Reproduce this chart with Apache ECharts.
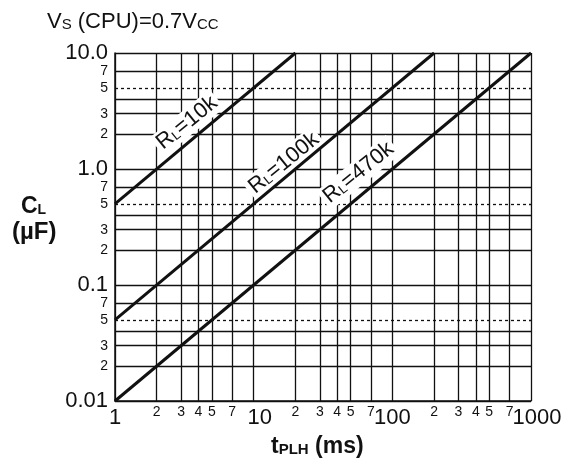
<!DOCTYPE html>
<html style="height: 100%">
<head>
    <meta charset="utf-8">
    <title>tPLH vs CL</title>
</head>
<body style="height: 100%; margin: 0">
    <div id="container" style="width: 566px; height: 462px"></div>
    <script type="text/javascript" src="https://cdn.jsdelivr.net/npm/echarts@6/dist/echarts.min.js"></script>
    <script type="text/javascript">
        var dom     = document.getElementById("container");
        var myChart = echarts.init(dom);

        // chart values
        var rl10k   = [[1, 0.5], [20, 10]];
        var rl100k  = [[1, 0.05], [200, 10]];
        var rl470k  = [[1, 0.01], [1000, 10]];

        // grid / tick values
        var xGrid     = [1, 2, 3, 4, 5, 7, 10, 20, 30, 40, 50, 70, 100, 200, 300, 400, 500, 700, 1000];
        var xMinor    = [2, 3, 4, 5, 7, 20, 30, 40, 50, 70, 200, 300, 400, 500, 700];
        var xDecades  = [1, 10, 100, 1000];
        var yGrid     = [0.01, 0.02, 0.03, 0.04, 0.07, 0.1, 0.2, 0.3, 0.4, 0.7, 1, 2, 3, 4, 7, 10];
        var yDotted   = [0.05, 0.5, 5];
        var yLabels   = [0.01, 0.02, 0.03, 0.05, 0.07, 0.1, 0.2, 0.3, 0.5, 0.7, 1, 2, 3, 5, 7, 10];
        var decadeNames = {0.01: '0.01', 0.1: '0.1', 1: '1.0', 10: '10.0'};

        var FONT = 'Liberation Sans, Arial, sans-serif';
        var INK  = '#111';

        function isDecade(v) {
            var l = Math.log10(v);
            return Math.abs(l - Math.round(l)) < 1e-9;
        }

        function leadDigit(v) {
            return String(Math.round(v / Math.pow(10, Math.floor(Math.log10(v) + 1e-9))));
        }

        function lineLabel(text, coord) {
            return {
                symbol: 'circle',
                symbolSize: 0,
                data: [{coord: coord}],
                label: {
                    show: true,
                    position: 'inside',
                    rotate: 39,
                    backgroundColor: '#fff',
                    padding: [1, 3],
                    formatter: '{r|R}{s|L}{r|' + text + '}',
                    rich: {
                        r: {fontFamily: FONT, fontSize: 22, color: INK, verticalAlign: 'bottom'},
                        s: {fontFamily: FONT, fontSize: 13, color: INK, verticalAlign: 'bottom', padding: [0, 0, 1, 0]}
                    }
                }
            };
        }

        function lineSeries(name, data, label, labelAt) {
            return {
                name:   name,
                type:   'line',
                data:   data,
                symbol: 'none',
                silent: true,
                z:      5,
                lineStyle: {color: INK, width: 3},
                markPoint: lineLabel(label, labelAt)
            };
        }

        var last = lineSeries('RL=470k', rl470k, '=470k', [57, 0.93]);
        last.markLine = {
            silent: true,
            symbol: ['none', 'none'],
            label: {show: false},
            lineStyle: {color: INK, width: 1.3, type: [3, 3]},
            data: yDotted.map(function (v) { return {yAxis: v}; })
        };

        option = {
            animation: false,
            backgroundColor: '#fff',
            grid: {left: 115, right: 35, top: 53, bottom: 61},
            title: {
                left: 47,
                top: 11,
                padding: 0,
                text: '{a|V}{b|S}{a| (CPU)=0.7V}{b|CC}',
                textStyle: {
                    rich: {
                        a: {fontFamily: FONT, fontSize: 22, fontWeight: 'normal', color: INK, verticalAlign: 'bottom'},
                        b: {fontFamily: FONT, fontSize: 15, fontWeight: 'normal', color: INK, verticalAlign: 'bottom', padding: [0, 0, 1, 0]}
                    }
                }
            },
            graphic: [{
                type: 'text',
                left: 21,
                top: 195,
                style: {
                    text: '{a|C}{b|L}',
                    rich: {
                        a: {fontFamily: FONT, fontSize: 23, fontWeight: 'bold', fill: INK, verticalAlign: 'bottom'},
                        b: {fontFamily: FONT, fontSize: 14, fontWeight: 'bold', fill: INK, verticalAlign: 'bottom', padding: [0, 0, 1, 0]}
                    }
                }
            }, {
                type: 'text',
                left: 12,
                top: 220,
                style: {
                    text: '(\u00b5F)',
                    font: 'bold 24px ' + FONT,
                    fill: INK
                }
            }, {
                type: 'text',
                left: 271,
                top: 435,
                style: {
                    text: '{a|t}{b|PLH}{a| (ms)}',
                    rich: {
                        a: {fontFamily: FONT, fontSize: 23, fontWeight: 'bold', fill: INK, verticalAlign: 'bottom'},
                        b: {fontFamily: FONT, fontSize: 15, fontWeight: 'bold', fill: INK, verticalAlign: 'bottom', padding: [0, 0, 1, 0]}
                    }
                }
            }],
            xAxis: [{
                // grid lines and minor digits
                type: 'log',
                logBase: 10,
                min: 1,
                max: 1000,
                axisLine: {show: true, onZero: false, lineStyle: {color: INK, width: 1.5}},
                axisTick: {show: false, customValues: xGrid},
                splitLine: {show: true, lineStyle: {color: INK, width: 1.3}},
                axisLabel: {
                    customValues: xMinor,
                    margin: 4,
                    verticalAlign: 'top',
                    formatter: function (v) { return leadDigit(v); },
                    fontFamily: FONT,
                    fontSize: 14,
                    color: INK
                }
            }, {
                // decade labels
                type: 'log',
                logBase: 10,
                min: 1,
                max: 1000,
                position: 'bottom',
                axisLine: {show: false},
                axisTick: {show: false},
                splitLine: {show: false},
                axisLabel: {
                    customValues: xDecades,
                    margin: 6,
                    verticalAlign: 'top',
                    showMinLabel: true,
                    showMaxLabel: true,
                    formatter: function (v) {
                        return (v === 1 || v === 100) ? '{b|' + Math.round(v) + '}' : '{c|' + Math.round(v) + '}';
                    },
                    rich: {
                        b: {fontFamily: FONT, fontSize: 22, color: INK},
                        c: {fontFamily: FONT, fontSize: 22, color: INK, padding: [0, 0, 0, 12]}
                    }
                }
            }],
            yAxis: {
                type: 'log',
                logBase: 10,
                min: 0.01,
                max: 10,
                axisLine: {show: true, onZero: false, lineStyle: {color: INK, width: 1.5}},
                axisTick: {show: false, customValues: yGrid},
                splitLine: {show: true, lineStyle: {color: INK, width: 1.3}},
                axisLabel: {
                    customValues: yLabels,
                    margin: 7,
                    showMinLabel: true,
                    showMaxLabel: true,
                    formatter: function (v) {
                        return isDecade(v) ? '{b|' + decadeNames[Math.round(v * 100) / 100] + '}' : '{s|' + leadDigit(v) + '}';
                    },
                    rich: {
                        b: {fontFamily: FONT, fontSize: 22, color: INK},
                        s: {fontFamily: FONT, fontSize: 14, color: INK}
                    }
                }
            },
            series: [
                lineSeries('RL=10k', rl10k, '=10k', [3.3, 2.5]),
                lineSeries('RL=100k', rl100k, '=100k', [16.5, 1.12]),
                last
            ]
        };

        if (option && typeof option === "object") {
            myChart.setOption(option, true);
        }
    </script>
</body>
</html>
